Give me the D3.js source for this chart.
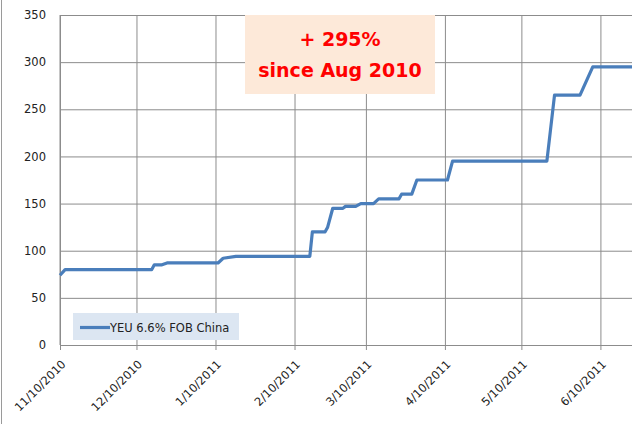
<!DOCTYPE html>
<html>
<head>
<meta charset="utf-8">
<script src="https://cdn.jsdelivr.net/npm/d3@7"></script>
<style>
  body { margin: 0; background: #fff; }
  svg { display: block; font-family: "DejaVu Sans", sans-serif; }
</style>
</head>
<body>
<svg id="chart" width="632" height="424"></svg>
<script>
// price points (step-like series)
const dates = [
  "2010-11-10", "2010-11-12", "2010-12-16", "2010-12-17", "2010-12-20", "2010-12-22",
  "2011-01-11", "2011-01-13", "2011-01-18", "2011-02-16", "2011-02-17", "2011-02-22",
  "2011-02-23", "2011-02-25", "2011-03-01", "2011-03-02", "2011-03-06", "2011-03-08",
  "2011-03-13", "2011-03-15", "2011-03-23", "2011-03-24", "2011-03-28", "2011-03-30",
  "2011-04-11", "2011-04-13", "2011-05-20", "2011-05-23", "2011-06-02", "2011-06-07",
  "2011-06-23"
]
const prices = [
  74, 80, 80, 85, 85, 87,
  87, 92, 94, 94, 120, 120,
  125, 145, 145, 147, 147, 150,
  150, 155, 155, 160, 160, 175,
  175, 195, 195, 265, 265, 295,
  295
]
const tickDates = ["2010-11-10", "2010-12-10", "2011-01-10", "2011-02-10",
                   "2011-03-10", "2011-04-10", "2011-05-10", "2011-06-10"]
const yTicks = [0, 50, 100, 150, 200, 250, 300, 350]
const seriesName = "YEU 6.6% FOB China"
const noteLines = ["+ 295%", "since Aug 2010"]

const parse = d3.timeParse("%Y-%m-%d")
const fmt = d3.timeFormat("%-m/%-d/%Y")
const data = dates.map((d, i) => ({date: parse(d), value: prices[i]}))

const width = 632, height = 424
const plotLeft = 60, plotTop = 15, plotBottom = 345
const gridColor = "#8c8c8c"
const lineColor = "#4a7ebb"

const svg = d3.select("#chart")
svg.append("rect").attr("width", width).attr("height", height).attr("fill", "#fff")

// outer chart border (left side only visible)
svg.append("line").attr("x1", 1.5).attr("x2", 1.5).attr("y1", 0).attr("y2", height)
  .attr("stroke", "#9a9a9a")

const x = d3.scaleTime()
  .domain([parse("2010-11-10"), parse("2011-06-22")])
  .range([plotLeft, 631])
const y = d3.scaleLinear().domain([0, 350]).range([plotBottom, plotTop])

// horizontal gridlines + y labels
const yAxis = svg.append("g").attr("transform", `translate(${plotLeft},0)`)
  .call(d3.axisLeft(y).tickValues(yTicks).tickSize(6).tickPadding(8))
yAxis.select(".domain").remove()
yAxis.selectAll(".tick line").attr("stroke", gridColor).attr("x2", width - plotLeft)
yAxis.selectAll(".tick text").attr("fill", "#222").style("font-size", "11.5px")
  .style("font-family", "DejaVu Sans")

// vertical gridlines + x labels
const xAxis = svg.append("g").attr("transform", `translate(0,${plotBottom})`)
  .call(d3.axisBottom(x).tickValues(tickDates.map(parse)).tickFormat(fmt).tickSize(5))
xAxis.select(".domain").remove()
xAxis.selectAll(".tick line").attr("stroke", gridColor).attr("y1", plotTop - plotBottom)
xAxis.selectAll(".tick text")
  .attr("fill", "#222").style("font-size", "11.5px").style("font-family", "DejaVu Sans")
  .attr("text-anchor", "end")
  .attr("dy", null).attr("y", 0)
  .attr("transform", "translate(6,20) rotate(-45)")

// axis lines
svg.append("line").attr("x1", plotLeft).attr("x2", plotLeft).attr("y1", plotTop).attr("y2", plotBottom)
  .attr("stroke", gridColor)
svg.append("line").attr("x1", plotLeft).attr("x2", width).attr("y1", plotBottom + 0.5).attr("y2", plotBottom + 0.5)
  .attr("stroke", gridColor)

// annotation box
const note = svg.append("g")
note.append("rect").attr("x", 245).attr("y", plotTop).attr("width", 190).attr("height", 79)
  .attr("fill", "#fde9d9")
note.selectAll("text").data(noteLines).enter().append("text")
  .attr("x", 340).attr("y", (d, i) => 46 + i * 31)
  .attr("text-anchor", "middle")
  .attr("fill", "#ff0000").style("font-weight", "bold").style("font-size", "19px")
  .text(d => d)

// series line
const line = d3.line().x(d => x(d.date)).y(d => y(d.value))
svg.append("path").datum(data)
  .attr("fill", "none").attr("stroke", lineColor).attr("stroke-width", 3.2)
  .attr("stroke-linejoin", "round")
  .attr("d", line)

// legend
const legend = svg.append("g")
legend.append("rect").attr("x", 73).attr("y", 313).attr("width", 166).attr("height", 27)
  .attr("fill", "#dce6f2")
legend.append("line").attr("x1", 80).attr("x2", 110).attr("y1", 327.5).attr("y2", 327.5)
  .attr("stroke", lineColor).attr("stroke-width", 3.2)
legend.append("text").attr("x", 110).attr("y", 331.5)
  .attr("fill", "#222").style("font-size", "11.5px")
  .text(seriesName)
</script>
</body>
</html>
